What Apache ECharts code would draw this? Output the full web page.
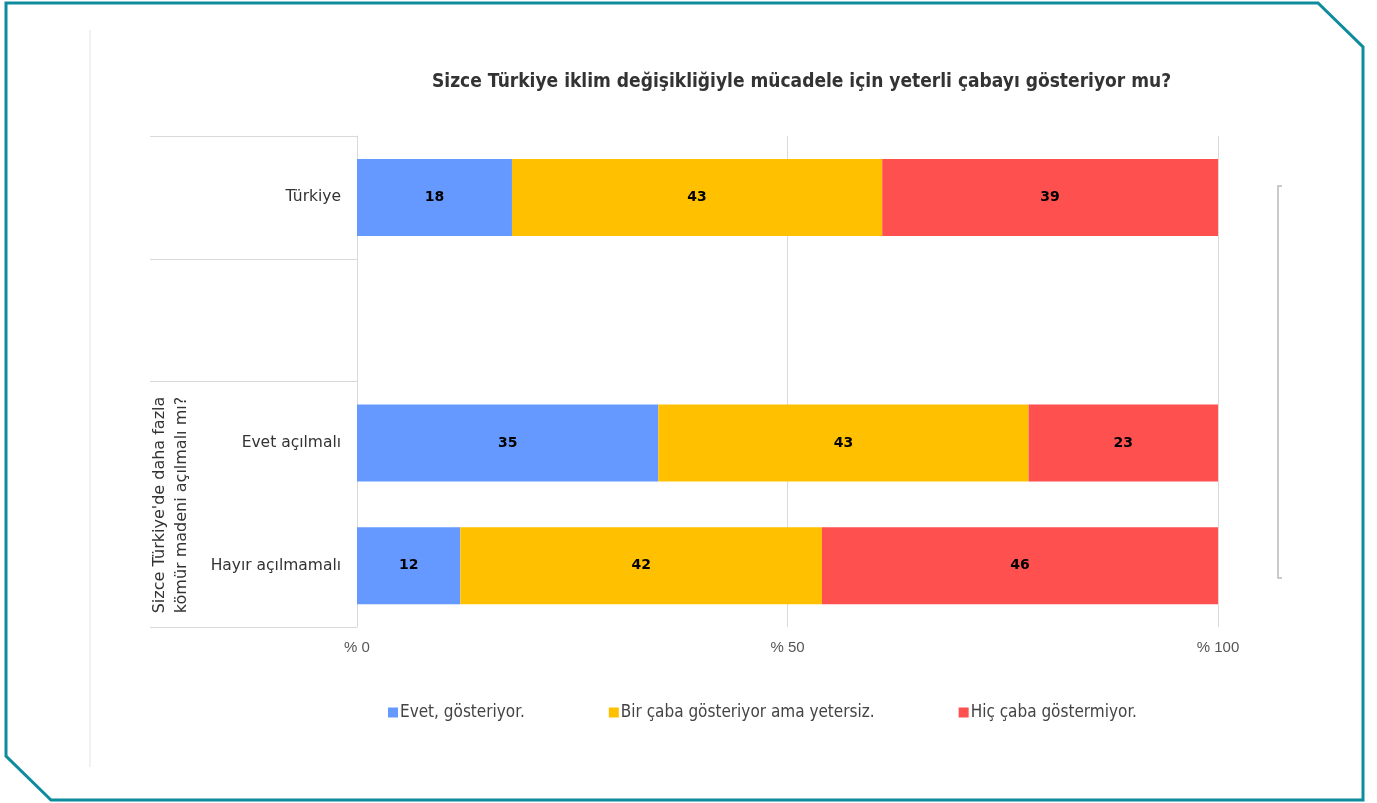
<!DOCTYPE html>
<html>
<head>
<meta charset="utf-8">
<script src="https://cdn.jsdelivr.net/npm/echarts@6/dist/echarts.min.js"></script>
<style>
  html, body { margin: 0; padding: 0; background: #fff; }
  #chart { width: 1377px; height: 803px; }
</style>
</head>
<body>
<div id="chart"></div>
<script>
"use strict"
// data
const categories = ['Türkiye', '', 'Evet açılmalı', 'Hayır açılmamalı'];
const seriesNames = ['Evet, gösteriyor.', 'Bir çaba gösteriyor ama yetersiz.', 'Hiç çaba göstermiyor.'];
const evet = [18, '-', 35, 12];
const biraz = [43, '-', 43, 42];
const hic = [39, '-', 23, 46];
const xTicks = [0, 50, 100];
const groupLabel = "Sizce Türkiye'de daha fazla\nkömür madeni açılmalı mı?";

const colors = ['#6699FF', '#FFC000', '#FF5050'];
const lineGrey = '#d9d9d9';
const condensed = '"DejaVu Sans Condensed", "DejaVu Sans"';

var myChart = echarts.init(document.getElementById('chart'));

function barSeries(name, data, color) {
  return {
    name: name,
    type: 'bar',
    stack: 'total',
    barWidth: 77,
    data: data,
    itemStyle: { color: color },
    label: {
      show: true,
      position: 'inside',
      color: '#000',
      fontFamily: 'DejaVu Sans',
      fontWeight: 'bold',
      fontSize: 14
    }
  };
}

var option = {
  animation: false,
  title: {
    text: 'Sizce Türkiye iklim değişikliğiyle mücadele için yeterli çabayı gösteriyor mu?',
    left: 427,
    top: 68,
    textStyle: {
      fontFamily: condensed,
      fontWeight: 'bold',
      fontSize: 19,
      color: '#333'
    }
  },
  legend: {
    left: 383,
    top: 699,
    icon: 'rect',
    itemWidth: 10,
    itemHeight: 10,
    itemGap: 84,
    data: seriesNames,
    textStyle: {
      fontFamily: condensed,
      fontSize: 17,
      color: '#444',
      padding: [0, 0, 0, -3]
    }
  },
  grid: {
    left: 357,
    right: 1377 - 1218,
    top: 136,
    bottom: 803 - 627,
    containLabel: false
  },
  xAxis: {
    type: 'value',
    min: 0,
    max: 100,
    interval: 50,
    axisLine: { show: false },
    axisTick: { show: false },
    splitLine: { lineStyle: { color: lineGrey, width: 1 } },
    axisLabel: {
      margin: 13,
      color: '#555',
      fontFamily: 'Liberation Sans',
      fontSize: 15,
      formatter: function (v) { return xTicks.indexOf(v) >= 0 ? '% ' + v : ''; }
    }
  },
  yAxis: {
    type: 'category',
    inverse: true,
    data: categories,
    axisLine: { show: true, lineStyle: { color: lineGrey, width: 1 } },
    axisTick: {
      show: true,
      length: 207,
      lineStyle: { color: lineGrey, width: 1 },
      interval: function (idx) { return idx !== 3; }
    },
    axisLabel: {
      margin: 16,
      color: '#333',
      fontFamily: 'DejaVu Sans',
      fontSize: 15.5
    }
  },
  series: [
    barSeries(seriesNames[0], evet, colors[0]),
    barSeries(seriesNames[1], biraz, colors[1]),
    barSeries(seriesNames[2], hic, colors[2])
  ],
  graphic: [
    // outer frame with cut corners
    {
      type: 'polygon',
      shape: { points: [[6, 3], [1318, 3], [1363, 47], [1363, 800], [51, 800], [6, 756]] },
      style: { fill: 'none', stroke: '#0E8C9E', lineWidth: 3 }
    },
    {
      type: 'line',
      shape: { x1: 90, y1: 30, x2: 90, y2: 767 },
      style: { stroke: '#ececec', lineWidth: 1.5 }
    },
    {
      type: 'polyline',
      shape: { points: [[1282, 186], [1278, 186], [1278, 578], [1282, 578]] },
      style: { fill: 'none', stroke: '#bbb', lineWidth: 1.5 }
    },
    {
      type: 'text',
      x: 171,
      y: 505,
      rotation: Math.PI / 2,
      style: {
        text: groupLabel,
        fill: '#333',
        font: '16px "DejaVu Sans"',
        align: 'center',
        verticalAlign: 'middle',
        lineHeight: 22
      }
    }
  ]
};

myChart.setOption(option);
</script>
</body>
</html>
